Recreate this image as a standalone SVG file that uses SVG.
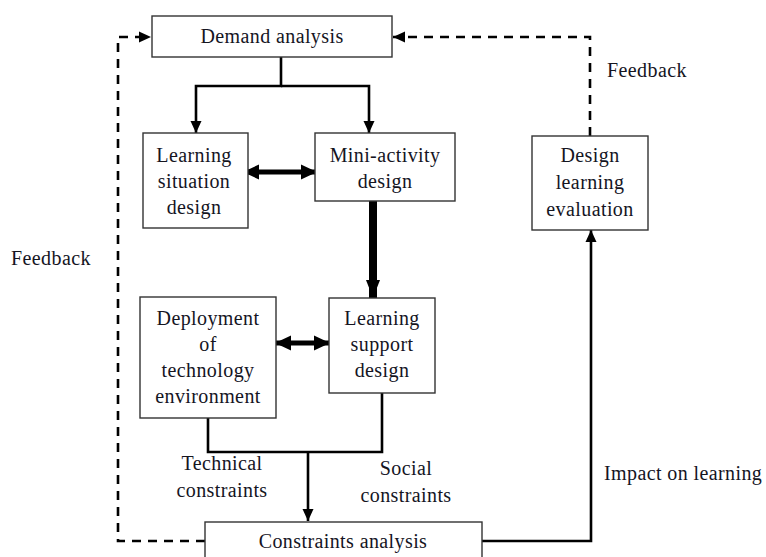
<svg xmlns="http://www.w3.org/2000/svg" width="766" height="557" viewBox="0 0 766 557">
<style>
  .box { fill: #ffffff; stroke: #333333; stroke-width: 1.4; }
  .t { font-family: "Liberation Serif", "Times New Roman", serif; font-size: 20px; fill: #15151f; text-anchor: middle; letter-spacing: 0.4px; }
  .ts { font-family: "Liberation Serif", "Times New Roman", serif; font-size: 20px; fill: #15151f; letter-spacing: 0.4px; }
  .ln { fill: none; stroke: #000000; stroke-width: 2.6; }
  .dash { fill: none; stroke: #000000; stroke-width: 2.6; stroke-dasharray: 9 7; }
  .dbl { fill: none; stroke: #000000; stroke-width: 5; }
</style>
<defs>
  <marker id="ah" markerUnits="userSpaceOnUse" markerWidth="12" markerHeight="12" refX="12" refY="6" orient="auto">
    <path d="M0,0.5 L12,6 L0,11.5 z" fill="#000"/>
  </marker>
  <marker id="ahb" markerUnits="userSpaceOnUse" markerWidth="16" markerHeight="16" refX="15" refY="8" orient="auto-start-reverse">
    <path d="M0,0.5 L16,8 L0,15.5 z" fill="#000"/>
  </marker>
  <marker id="ahbig" markerUnits="userSpaceOnUse" markerWidth="18" markerHeight="14" refX="18" refY="7" orient="auto">
    <path d="M0,0 L18,7 L0,14 z" fill="#000"/>
  </marker>
</defs>

<g id="connectors">
  <!-- Demand analysis split -->
  <path class="ln" d="M281,57 V86 H196 V133" marker-end="url(#ah)"/>
  <path class="ln" d="M281,86 H369 V133" marker-end="url(#ah)"/>
  <!-- double arrow top -->
  <path class="dbl" d="M244,172 H316" marker-start="url(#ahb)" marker-end="url(#ahb)"/>
  <!-- thick down arrow -->
  <path d="M373,201 V298" fill="none" stroke="#000" stroke-width="8" marker-end="url(#ahbig)"/>
  <!-- double arrow bottom -->
  <path class="dbl" d="M276,343 H329" marker-start="url(#ahb)" marker-end="url(#ahb)"/>
  <!-- merge to constraints -->
  <path class="ln" d="M208,418 V452 H382 V393"/>
  <path class="ln" d="M308,452 V521" marker-end="url(#ah)"/>
  <!-- impact on learning -->
  <path class="ln" d="M482,541 H591 V230" marker-end="url(#ah)"/>
  <!-- feedback right -->
  <path class="dash" d="M590,136 V37 H393" marker-end="url(#ah)"/>
  <!-- feedback left -->
  <path class="dash" d="M205,541 H118 V37 H151" marker-end="url(#ah)"/>
</g>

<g id="demand-analysis">
  <rect class="box" x="152" y="16" width="240" height="41"/>
  <text class="t" x="272" y="43">Demand analysis</text>
</g>

<g id="learning-situation-design">
  <rect class="box" x="143" y="133" width="105" height="95"/>
  <text class="t" x="194" y="162">Learning</text>
  <text class="t" x="194" y="188">situation</text>
  <text class="t" x="194" y="214">design</text>
</g>

<g id="mini-activity-design">
  <rect class="box" x="315" y="133" width="140" height="68"/>
  <text class="t" x="385" y="162">Mini-activity</text>
  <text class="t" x="385" y="188">design</text>
</g>

<g id="design-learning-evaluation">
  <rect class="box" x="532" y="136" width="116" height="94"/>
  <text class="t" x="590" y="162">Design</text>
  <text class="t" x="590" y="189">learning</text>
  <text class="t" x="590" y="216">evaluation</text>
</g>

<g id="deployment-technology-environment">
  <rect class="box" x="140" y="297" width="136" height="121"/>
  <text class="t" x="208" y="325">Deployment</text>
  <text class="t" x="208" y="351">of</text>
  <text class="t" x="208" y="377">technology</text>
  <text class="t" x="208" y="403">environment</text>
</g>

<g id="learning-support-design">
  <rect class="box" x="329" y="298" width="106" height="95"/>
  <text class="t" x="382" y="325">Learning</text>
  <text class="t" x="382" y="351">support</text>
  <text class="t" x="382" y="377">design</text>
</g>

<g id="constraints-analysis">
  <rect class="box" x="205" y="522" width="277" height="45"/>
  <text class="t" x="343" y="548">Constraints analysis</text>
</g>

<g id="labels">
  <text class="t" x="222" y="470">Technical</text>
  <text class="t" x="222" y="497">constraints</text>
  <text class="t" x="406" y="475">Social</text>
  <text class="t" x="406" y="502">constraints</text>
  <text class="ts" x="604" y="480">Impact on learning</text>
  <text class="ts" x="607" y="77">Feedback</text>
  <text class="ts" x="11" y="265">Feedback</text>
</g>
</svg>
